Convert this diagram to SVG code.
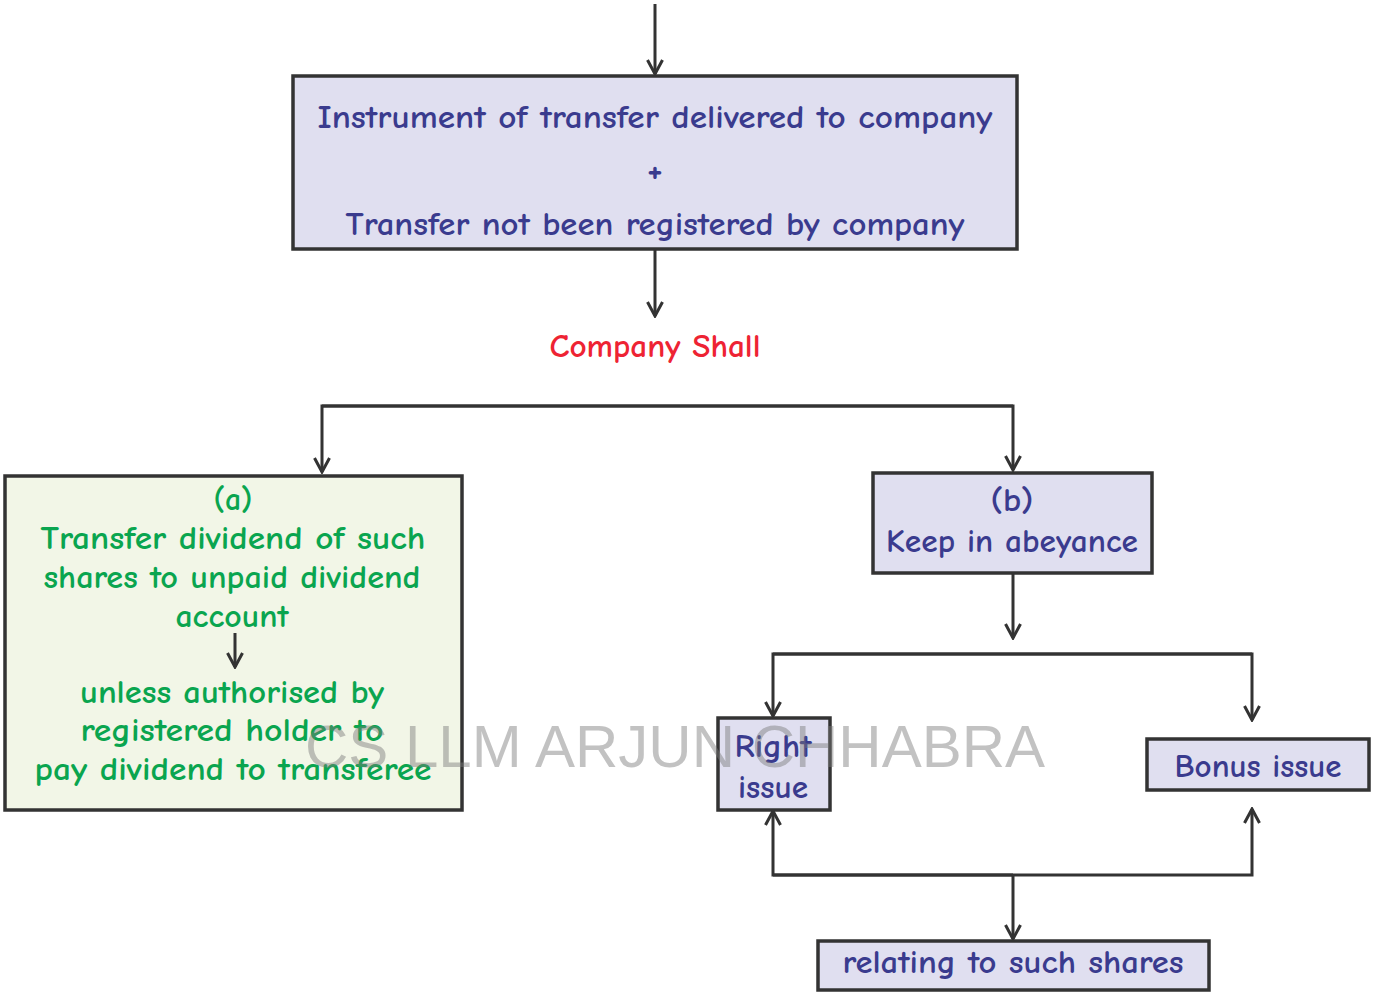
<svg xmlns="http://www.w3.org/2000/svg" width="1375" height="993" viewBox="0 0 1375 993">
  <style>
    .box { stroke: #333333; stroke-width: 3.5; }
    .lav { fill: #e0dff0; }
    .grn { fill: #f2f6e7; }
    .wire { fill: none; stroke: #333333; stroke-width: 3; }
    .t { font-family: "Comic Sans MS", "Comic Neue", "Noto Sans", sans-serif; font-size: 32px; font-weight: 700; text-anchor: middle; }
    .blue { fill: #3a3b8e; }
    .green { fill: #0aa54f; }
    .red { fill: #ee2333; }
    .mark { font-family: "Liberation Sans", Arial, sans-serif; font-size: 60px; fill: #7a7a7a; opacity: 0.45; text-anchor: middle; }
  </style>
  <defs>
    <!-- open V arrowhead -->
    <marker id="arrow" viewBox="0 0 18 18" refX="16" refY="9" markerWidth="18" markerHeight="18" markerUnits="userSpaceOnUse" orient="auto">
      <path d="M2,1.5 L16,9 L2,16.5" fill="none" stroke="#333333" stroke-width="3"/>
    </marker>
  </defs>

  <rect width="1375" height="993" fill="#ffffff"/>

  <!-- connectors -->
  <g id="connectors">
    <path class="wire" d="M655,4 V74" marker-end="url(#arrow)"/>
    <path class="wire" d="M655,249 V316" marker-end="url(#arrow)"/>
    <path class="wire" d="M1013,406 H322 V472" marker-end="url(#arrow)"/>
    <path class="wire" d="M322,406 H1013 V470" marker-end="url(#arrow)"/>
    <path class="wire" d="M1013,573 V638" marker-end="url(#arrow)"/>
    <path class="wire" d="M1252,654 H773 V716" marker-end="url(#arrow)"/>
    <path class="wire" d="M773,654 H1252 V720" marker-end="url(#arrow)"/>
    <path class="wire" d="M1013,875 H773 V811" marker-end="url(#arrow)"/>
    <path class="wire" d="M773,875 H1252 V809" marker-end="url(#arrow)"/>
    <path class="wire" d="M1013,875 V939" marker-end="url(#arrow)"/>
  </g>

  <g id="node-instrument">
    <rect class="box lav" x="293" y="76" width="724" height="173"/>
    <text class="t blue" x="655" y="128" textLength="675" lengthAdjust="spacingAndGlyphs">Instrument of transfer delivered to company</text>
    <text class="t blue" x="655" y="182" style="font-size:36px">+</text>
    <text class="t blue" x="655" y="235" textLength="619" lengthAdjust="spacingAndGlyphs">Transfer not been registered by company</text>
  </g>

  <g id="node-company-shall">
    <text class="t red" x="655" y="357" textLength="211" lengthAdjust="spacingAndGlyphs">Company Shall</text>
  </g>

  <g id="node-a">
    <rect class="box grn" x="5" y="476" width="457" height="334"/>
    <text class="t green" x="233" y="510" textLength="39" lengthAdjust="spacingAndGlyphs">(a)</text>
    <text class="t green" x="233" y="549" textLength="385" lengthAdjust="spacingAndGlyphs">Transfer dividend of such</text>
    <text class="t green" x="232" y="588" textLength="377" lengthAdjust="spacingAndGlyphs">shares to unpaid dividend</text>
    <text class="t green" x="232" y="627" textLength="113" lengthAdjust="spacingAndGlyphs">account</text>
    <path class="wire" d="M235,633 V667" marker-end="url(#arrow)"/>
    <text class="t green" x="232" y="703" textLength="304" lengthAdjust="spacingAndGlyphs">unless authorised by</text>
    <text class="t green" x="232" y="741" textLength="303" lengthAdjust="spacingAndGlyphs">registered holder to</text>
    <text class="t green" x="233" y="780" textLength="397" lengthAdjust="spacingAndGlyphs">pay dividend to transferee</text>
  </g>

  <g id="node-b">
    <rect class="box lav" x="873" y="473" width="279" height="100"/>
    <text class="t blue" x="1012" y="511" textLength="43" lengthAdjust="spacingAndGlyphs">(b)</text>
    <text class="t blue" x="1012" y="552" textLength="252" lengthAdjust="spacingAndGlyphs">Keep in abeyance</text>
  </g>

  <g id="node-right-issue">
    <rect class="box lav" x="718" y="718" width="112" height="92"/>
    <text class="t blue" x="773" y="757" textLength="77" lengthAdjust="spacingAndGlyphs">Right</text>
    <text class="t blue" x="773" y="798" textLength="70" lengthAdjust="spacingAndGlyphs">issue</text>
  </g>

  <g id="node-bonus-issue">
    <rect class="box lav" x="1147" y="739" width="222" height="51"/>
    <text class="t blue" x="1258" y="777" textLength="167" lengthAdjust="spacingAndGlyphs">Bonus issue</text>
  </g>

  <g id="node-relating">
    <rect class="box lav" x="818" y="941" width="391" height="49"/>
    <text class="t blue" x="1013" y="973" textLength="341" lengthAdjust="spacingAndGlyphs">relating to such shares</text>
  </g>

  <text class="mark" x="675" y="767">CS LLM ARJUN CHHABRA</text>
</svg>
